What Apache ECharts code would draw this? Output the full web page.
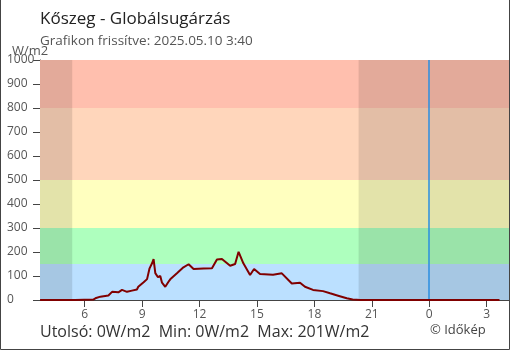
<!DOCTYPE html>
<html>
<head>
<meta charset="utf-8">
<script src="https://cdn.jsdelivr.net/npm/echarts@6/dist/echarts.min.js"></script>
<style>
  html, body { margin: 0; padding: 0; background: #fff; }
  #chart { width: 510px; height: 350px; }
</style>
</head>
<body>
<div id="chart"></div>
<script>
// Time of each reading, in hours from midnight of 2025.05.09 (values past 24 belong to 05.10)
const hours = [
  3.67, 5.5, 5.6, 6.45, 6.56, 6.82, 7.24, 7.43, 7.76, 7.95,
  8.21, 8.47, 8.73, 8.80, 9.08, 9.26, 9.39, 9.52, 9.60, 9.69,
  9.83, 9.95, 10.04, 10.21, 10.38, 10.47, 10.82, 11.16, 11.43, 11.69,
  12.21, 12.65, 12.91, 13.17, 13.60, 13.86, 14.04, 14.29, 14.64, 14.85,
  15.16, 15.84, 16.30, 16.82, 17.25, 17.51, 17.93, 18.45, 18.82, 19.24,
  19.69, 20.0, 20.4, 27.67
];
// Global radiation, W/m2
const radiation = [
  0, 0, 2, 2, 7, 14, 19, 34, 32, 42,
  34, 39, 44, 55, 74, 87, 132, 153, 170, 112,
  95, 100, 72, 55, 76, 86, 111, 136, 149, 129,
  131, 132, 169, 171, 143, 150, 201, 153, 104, 129,
  108, 105, 111, 69, 72, 55, 42, 37, 28, 18,
  7, 2, 0, 0
];
// Axis ticks (hours); labels are shown modulo 24
const tickHours = [6, 9, 12, 15, 18, 21, 24, 27];
const xMin = 3 + 40 / 60;
const xMax = 28 + 10 / 60;
// Radiation level bands [from, to] and their fills
const bandLimits = [[0, 150], [150, 300], [300, 500], [500, 800], [800, 1000]];
const bandColors = ['#bbe0ff', '#aeffbe', '#ffffbf', '#ffd6bb', '#ffbfae'];
// Dark periods: before sunrise and after sunset
const nightSpans = [[xMin, 5.35], [20.31, xMax]];
const midnight = 24;

const summaryText = 'Utolsó: 0W/m2  Min: 0W/m2  Max: 201W/m2';

const chart = echarts.init(document.getElementById('chart'), null, { renderer: 'canvas' });
const fontFamily = '"Open Sans", sans-serif';
const axisColor = '#444';
const labelColor = '#555';

function xAxisCfg(inner) {
  return {
    type: 'value', min: xMin, max: xMax, position: 'bottom',
    axisLine: { show: !inner, lineStyle: { color: axisColor, width: 1 } },
    axisTick: { show: true, inside: inner, length: inner ? 6 : 7, customValues: tickHours,
                lineStyle: { color: axisColor, width: 1 } },
    axisLabel: { show: !inner, customValues: tickHours, color: labelColor, fontSize: 12,
                 fontFamily, margin: 9, formatter: v => String(Math.round(v) % 24) },
    splitLine: { show: false }
  };
}
function yAxisCfg(inner) {
  return {
    type: 'value', min: 0, max: 1000, interval: 100, position: 'left',
    axisLine: { show: !inner, lineStyle: { color: axisColor, width: 1 } },
    axisTick: { show: true, inside: inner, length: 7, lineStyle: { color: axisColor, width: 1 } },
    axisLabel: { show: !inner, color: labelColor, fontSize: 12, fontFamily, align: 'left', margin: 33,
                 formatter: v => String(v) },
    splitLine: { show: false }
  };
}

chart.setOption({
  animation: false,
  backgroundColor: '#fff',
  grid: { left: 40, right: 1, top: 60, bottom: 50, containLabel: false },
  xAxis: [xAxisCfg(false), xAxisCfg(true)],
  yAxis: [yAxisCfg(false), yAxisCfg(true)],
  series: [
    {
      name: 'bands', type: 'line', data: [], silent: true, z: 1,
      markArea: {
        silent: true,
        data: bandLimits.map((b, i) => [
          { yAxis: b[0], itemStyle: { color: bandColors[i], opacity: 1 } },
          { yAxis: b[1] }
        ])
      }
    },
    {
      name: 'night', type: 'line', data: [], silent: true, z: 2,
      markArea: {
        silent: true,
        data: nightSpans.map(s => [
          { xAxis: s[0], itemStyle: { color: 'rgba(0,0,0,0.11)' } },
          { xAxis: s[1] }
        ])
      }
    },
    {
      name: 'Globálsugárzás', type: 'line', z: 5,
      data: hours.map((h, i) => [h, radiation[i]]),
      showSymbol: false, smooth: false,
      lineStyle: { color: '#800000', width: 2 },
      clip: false,
      markLine: {
        silent: true, symbol: 'none', label: { show: false },
        lineStyle: { color: '#2a8ee0', width: 1.5, type: 'solid', opacity: 1 },
        emphasis: { disabled: true },
        data: [{ xAxis: midnight }]
      }
    }
  ],
  graphic: [
    { type: 'text', left: 40, top: 11, style: { text: 'Kőszeg - Globálsugárzás', fill: '#222',
      font: '17px "Open Sans", sans-serif' } },
    { type: 'text', left: 40, top: 34, style: { text: 'Grafikon frissítve: 2025.05.10 3:40', fill: '#555',
      font: '13.5px "Open Sans", sans-serif' } },
    { type: 'text', left: 12, top: 45, style: { text: 'W/m2', fill: '#555',
      font: '13px "Open Sans", sans-serif' } },
    { type: 'text', left: 40, top: 324, style: { text: summaryText, fill: '#333',
      font: '16px "Open Sans", sans-serif' } },
    { type: 'text', left: 430, top: 324, style: { text: '© Időkép', fill: '#444',
      font: '13px "Open Sans", sans-serif' } },
    { type: 'polyline', silent: true, z: 100,
      shape: { points: [[0.5, 0], [0.5, 349.5], [509.5, 349.5], [509.5, 0]] },
      style: { stroke: '#444', lineWidth: 1, fill: null } }
  ]
});
</script>
</body>
</html>
